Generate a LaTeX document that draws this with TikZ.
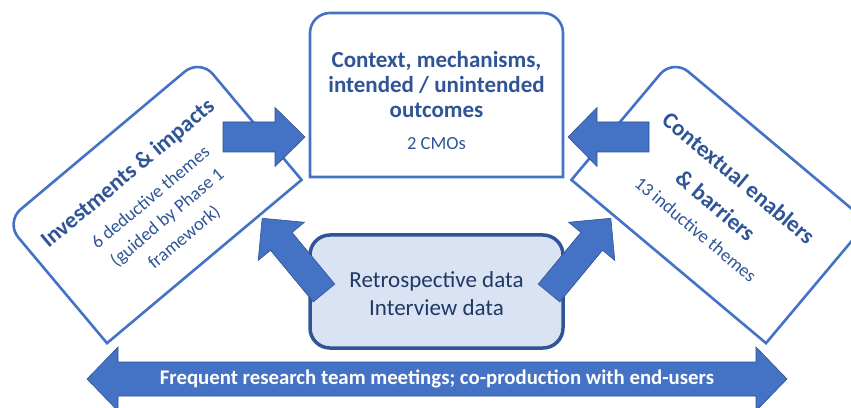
\documentclass[tikz,border=0pt]{standalone}
\usepackage{fontspec}
\setmainfont{Carlito}
\definecolor{mainblue}{HTML}{4472C4}
\definecolor{arrowedge}{HTML}{2F528F}
\definecolor{tdark}{HTML}{2F5597}
\definecolor{navytext}{HTML}{1F3864}
\definecolor{lightfill}{HTML}{DAE3F3}
\newcommand{\blockarr}[6]{%
  \filldraw[arrowst, shift={#1}, rotate=#2] (0,-#4) -- ({#3-#6},-#4) -- ({#3-#6},-#5) -- (#3,0) -- ({#3-#6},#5) -- ({#3-#6},#4) -- (0,#4) -- cycle;}
\begin{document}
\begin{tikzpicture}[x=1pt,y=1pt,
  boxline/.style={draw=mainblue, line width=2.6pt, fill=white},
  arrowst/.style={fill=mainblue, draw=arrowedge, line width=0.6pt},
  ttl/.style={text=tdark, font=\bfseries\fontsize{23}{25}\selectfont, align=center, inner sep=0pt},
  subtxt/.style={text=tdark, font=\fontsize{18.5}{26}\selectfont, align=center, inner sep=0pt}]
\useasboundingbox (0,0) rectangle (851,407);
\clip (0,0) rectangle (851,407);

% centre box
\begin{scope}[shift={(436.5,312)}]
  \draw[boxline] (-126.5,-82) -- (126.5,-82) -- (126.5,62) arc[start angle=0,end angle=90,radius=20pt]
    -- (-106.5,82) arc[start angle=90,end angle=180,radius=20pt] -- cycle;
  \node[ttl] (ctitle) at (0,10) {Context, mechanisms,\\intended / unintended\\outcomes};
  \node[subtxt] (csub) at (0,-49) {2 CMOs};
\end{scope}

% left box
\begin{scope}[shift={(153.5,206)}, rotate=40]
  \draw[boxline] (-127,-79) -- (127,-79) -- (127,59) arc[start angle=0,end angle=90,radius=20pt]
    -- (-107,79) arc[start angle=90,end angle=180,radius=20pt] -- cycle;
  \node[ttl, rotate=40] (ltitle) at (-2,37) {Investments \& impacts};
  \node[subtxt, rotate=40] (lsub) at (0,-22) {6 deductive themes\\(guided by Phase 1\\framework)};
\end{scope}

% right box
\begin{scope}[shift={(719.5,206)}, rotate=-40]
  \draw[boxline] (-127,-79) -- (127,-79) -- (127,59) arc[start angle=0,end angle=90,radius=20pt]
    -- (-107,79) arc[start angle=90,end angle=180,radius=20pt] -- cycle;
  \node[ttl, rotate=-40, font=\bfseries\fontsize{23}{36}\selectfont] (rtitle) at (0,12) {Contextual enablers\\\& barriers};
  \node[subtxt, rotate=-40] (rsub) at (0,-37) {13 inductive themes};
\end{scope}

% horizontal arrows
\blockarr{(223,270)}{0}{82}{15}{29.5}{30}
\blockarr{(649,270)}{180}{81}{15}{29.5}{29}

% bottom data box
\node[draw=tdark, line width=3.5pt, fill=lightfill, rounded corners=20pt,
      minimum width=253pt, minimum height=113pt, inner sep=0pt] (data) at (436.5,115.5) {};
\node[text=navytext, font=\fontsize{23}{28}\selectfont, align=center, inner sep=0pt] (datatxt) at (436.5,113) {Retrospective data\\Interview data};

% diagonal arrows
\blockarr{(324,114)}{129.6}{97}{14}{30}{30}
\blockarr{(549,114)}{50.4}{97}{14}{30}{30}

% bottom double arrow
\filldraw[arrowst] (87,28) -- (118,60) -- (118,45) -- (756,45) -- (756,60) -- (787,28)
  -- (756,-4) -- (756,11) -- (118,11) -- (118,-4) -- cycle;
\node[text=white, font=\bfseries\fontsize{20.8}{24}\selectfont, inner sep=0pt] (meet) at (437,28) {Frequent research team meetings; co-production with end-users};
\end{tikzpicture}
\end{document}
